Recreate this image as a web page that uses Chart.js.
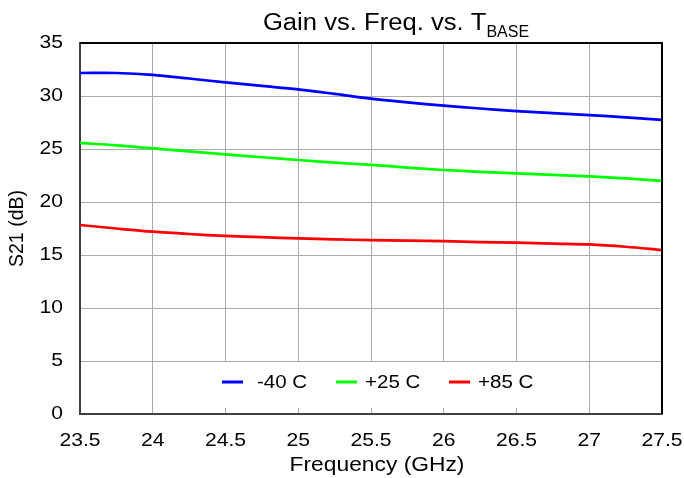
<!DOCTYPE html>
<html>
<head>
<meta charset="utf-8">
<script src="https://cdn.jsdelivr.net/npm/chart.js@4/dist/chart.umd.min.js"></script>
<style>
  html, body { margin: 0; padding: 0; background: #fff; }
  #wrap { width: 684px; height: 478px; }
</style>
</head>
<body>
<div id="wrap"><canvas id="c" width="684" height="478"></canvas></div>
<script>
// Frequency sweep (GHz)
const freqGHz = [23.5, 23.75, 24, 24.25, 24.5, 24.75, 25, 25.25, 25.5, 25.75, 26, 26.25, 26.5, 26.75, 27, 27.25, 27.5];

// S21 gain (dB) at each base temperature
const gainMinus40 = [32.17, 32.17, 32.0, 31.65, 31.28, 30.95, 30.62, 30.2, 29.75, 29.4, 29.09, 28.82, 28.58, 28.38, 28.2, 27.98, 27.74];
const gainPlus25  = [25.57, 25.35, 25.06, 24.78, 24.5, 24.22, 23.96, 23.72, 23.5, 23.25, 23.02, 22.85, 22.7, 22.56, 22.42, 22.22, 22.0];
const gainPlus85  = [17.83, 17.5, 17.2, 16.98, 16.8, 16.68, 16.57, 16.48, 16.4, 16.35, 16.3, 16.22, 16.16, 16.08, 16.0, 15.78, 15.47];

const seriesLabels = ['-40 C', '+25 C', '+85 C'];
const seriesColors = ['#0000ff', '#00ff00', '#ff0000'];

const xTicks = [23.5, 24, 24.5, 25, 25.5, 26, 26.5, 27, 27.5];
const yTicks = [0, 5, 10, 15, 20, 25, 30, 35];

const titleMain = 'Gain vs. Freq. vs. T';
const titleSub = 'BASE';
const xTitle = 'Frequency (GHz)';
const yTitle = 'S21 (dB)';

const FONT = '"Liberation Sans", Arial, sans-serif';
const WIDEN = 1.14; // horizontal text stretch of this plot style

function toPoints(ys) { return freqGHz.map((x, i) => ({ x: x, y: ys[i] })); }

const datasets = [gainMinus40, gainPlus25, gainPlus85].map((ys, i) => ({
  label: seriesLabels[i],
  data: toPoints(ys),
  borderColor: seriesColors[i],
  backgroundColor: seriesColors[i],
  borderWidth: 2.7,
  pointRadius: 0,
  tension: 0.35,
  fill: false
}));

// draws a text horizontally widened, anchored at (x, y)
function wideText(ctx, text, x, y, size, align, baseline, sx) {
  ctx.save();
  ctx.font = size + 'px ' + FONT;
  ctx.textAlign = align;
  ctx.textBaseline = baseline;
  ctx.fillStyle = '#000';
  ctx.translate(x, y);
  ctx.scale(sx, 1);
  ctx.fillText(text, 0, 0);
  ctx.restore();
}
function wideWidth(ctx, text, size, sx) {
  ctx.save();
  ctx.font = size + 'px ' + FONT;
  const w = ctx.measureText(text).width * sx;
  ctx.restore();
  return w;
}

const decorations = {
  id: 'decorations',
  beforeDatasetsDraw(chart) {
    const ctx = chart.ctx;
    // legend box inside the plot, hiding the grid behind it
    const bx = 193, by = 362, bw = 368, bh = 46;
    ctx.save();
    ctx.fillStyle = '#ffffff';
    ctx.fillRect(bx, by, bw, bh);
    const cy = 383;
    const items = [
      { x: 222, tx: 257 },
      { x: 336, tx: 365 },
      { x: 449, tx: 478 }
    ];
    items.forEach((it, i) => {
      ctx.strokeStyle = seriesColors[i];
      ctx.lineWidth = 3;
      ctx.beginPath();
      ctx.moveTo(it.x, cy - 1);
      ctx.lineTo(it.x + 21, cy - 1);
      ctx.stroke();
      wideText(ctx, seriesLabels[i], it.tx, cy, 18, 'left', 'middle', WIDEN);
    });
    ctx.restore();
  },
  afterDraw(chart) {
    const ctx = chart.ctx;
    const a = chart.chartArea;
    const xs = chart.scales.x, ys = chart.scales.y;
    ctx.save();
    // top and right frame
    ctx.strokeStyle = '#000';
    ctx.lineWidth = 2;
    ctx.beginPath();
    ctx.moveTo(a.left, a.top);
    ctx.lineTo(a.right, a.top);
    ctx.lineTo(a.right, a.bottom);
    ctx.stroke();
    ctx.restore();

    // tick labels
    xTicks.forEach(v => wideText(ctx, String(v), xs.getPixelForValue(v), 441, 18.5, 'center', 'middle', WIDEN));
    yTicks.forEach(v => wideText(ctx, String(v), 63, ys.getPixelForValue(v), 18.5, 'right', 'middle', WIDEN));

    // axis titles
    wideText(ctx, xTitle, 377, 465, 20, 'center', 'middle', WIDEN);
    ctx.save();
    ctx.translate(18, (a.top + a.bottom) / 2);
    ctx.rotate(-Math.PI / 2);
    wideText(ctx, yTitle, 0, 0, 19.5, 'center', 'middle', 1);
    ctx.restore();

    // chart title with subscript
    const mainSize = 23.5, subSize = 16;
    const w1 = wideWidth(ctx, titleMain, mainSize, 1.09);
    const w2 = wideWidth(ctx, titleSub, subSize, 1.0);
    const x0 = 396 - (w1 + w2) / 2;
    wideText(ctx, titleMain, x0, 30, mainSize, 'left', 'alphabetic', 1.09);
    wideText(ctx, titleSub, x0 + w1, 37, subSize, 'left', 'alphabetic', 1.0);
  }
};

new Chart(document.getElementById('c'), {
  type: 'line',
  data: { datasets: datasets },
  options: {
    responsive: false,
    animation: false,
    layout: { padding: { left: 0, right: 22, top: 43, bottom: 0 } },
    plugins: {
      legend: { display: false },
      title: { display: false },
      tooltip: { enabled: false }
    },
    scales: {
      x: {
        type: 'linear',
        min: 23.5,
        max: 27.5,
        afterBuildTicks(scale) { scale.ticks = xTicks.map(v => ({ value: v })); },
        afterFit(scale) { scale.height = 64; scale.paddingLeft = 0; scale.paddingRight = 0; },
        ticks: { display: false },
        grid: { color: '#ababab', lineWidth: 1, drawTicks: false },
        border: { color: '#404040', width: 2 }
      },
      y: {
        type: 'linear',
        min: 0,
        max: 35,
        afterBuildTicks(scale) { scale.ticks = yTicks.map(v => ({ value: v })); },
        afterFit(scale) { scale.width = 80; scale.paddingTop = 0; scale.paddingBottom = 0; },
        ticks: { display: false },
        grid: { color: '#ababab', lineWidth: 1, drawTicks: false },
        border: { color: '#404040', width: 2 }
      }
    }
  },
  plugins: [decorations]
});
</script>
</body>
</html>
